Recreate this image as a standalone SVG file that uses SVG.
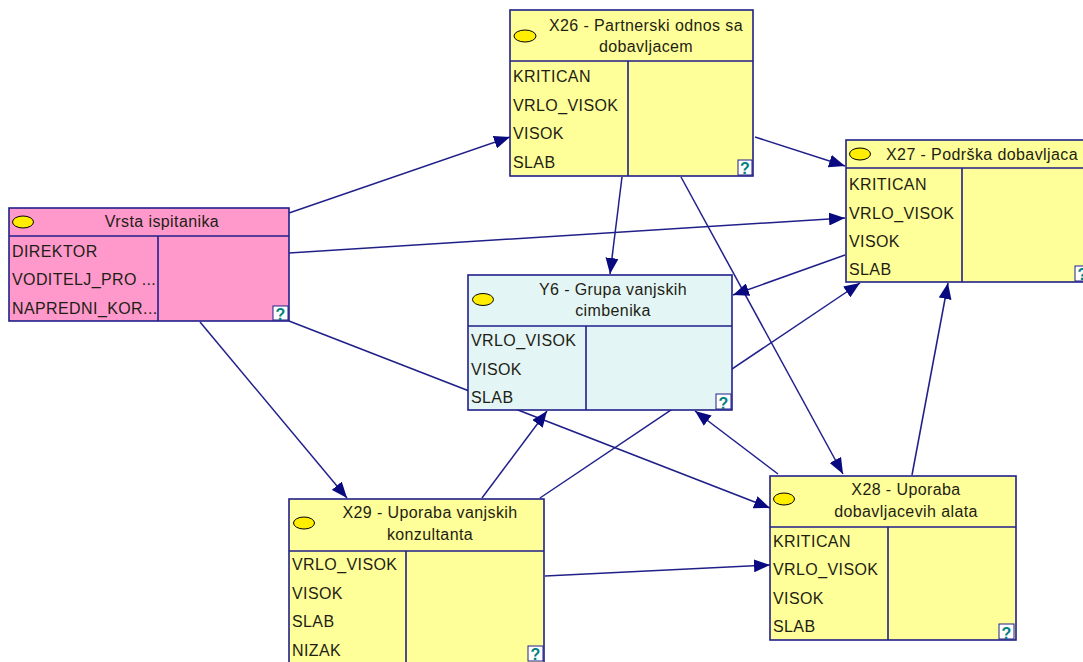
<svg xmlns="http://www.w3.org/2000/svg" width="1083" height="662" viewBox="0 0 1083 662">
<style>
.box{stroke:#20208a;stroke-width:1.6}
.div{stroke:#20208a;stroke-width:1.6;fill:none}
.y{fill:#ffff99}.p{fill:#ff99cc}.c{fill:#e3f5f5}
.ell{fill:#ffee00;stroke:#000;stroke-width:1}
text{font-family:"Liberation Sans",Arial,sans-serif;font-size:16px;fill:#1e1e14;letter-spacing:0.4px}
.h{text-anchor:middle}
.q{fill:#fff;stroke:#20208a;stroke-width:1}
.qt{font-size:16px;font-weight:bold;fill:#008080;text-anchor:middle;letter-spacing:0}
.ln{stroke:#20208a;stroke-width:1.5;fill:none;marker-end:url(#ah)}
</style>
<defs>
<marker id="ah" markerUnits="userSpaceOnUse" markerWidth="17" markerHeight="13" refX="16" refY="6.5" orient="auto">
<path d="M0,0 L16,6.5 L0,13 z" fill="#0a0a80"/>
</marker>
</defs>
<rect width="1083" height="662" fill="#fff"/>
<g id="connectors">
<line class="ln" x1="289" y1="213" x2="510" y2="137"/>
<line class="ln" x1="289" y1="253" x2="845" y2="218"/>
<line class="ln" x1="289" y1="321" x2="770" y2="508"/>
<line class="ln" x1="200" y1="322" x2="347" y2="498"/>
<line class="ln" x1="622" y1="177" x2="610" y2="274"/>
<line class="ln" x1="681" y1="177" x2="843" y2="474"/>
<line class="ln" x1="755" y1="137" x2="845" y2="166"/>
<line class="ln" x1="845" y1="255" x2="733" y2="295"/>
<line class="ln" x1="540" y1="498" x2="860" y2="283"/>
<line class="ln" x1="912" y1="475" x2="948" y2="283"/>
<line class="ln" x1="778" y1="474" x2="695" y2="411"/>
<line class="ln" x1="482" y1="498" x2="547" y2="411"/>
<line class="ln" x1="545" y1="576" x2="770" y2="565"/>
</g>
<g id="X26">
<rect class="box y" x="510" y="10" width="243" height="166"/>
<path class="div" d="M510,61 H753 M628,61 V176"/>
<ellipse class="ell" cx="525" cy="36" rx="11" ry="6"/>
<text class="h" x="646" y="31">X26 - Partnerski odnos sa</text>
<text class="h" x="646" y="52">dobavljacem</text>
<text x="513" y="82">KRITICAN</text>
<text x="513" y="110.5">VRLO_VISOK</text>
<text x="513" y="139">VISOK</text>
<text x="513" y="167.5">SLAB</text>
<rect class="q" x="738" y="160" width="14" height="15"/>
<text class="qt" x="745" y="174">?</text>
</g>
<g id="Vrsta">
<rect class="box p" x="9" y="208" width="280" height="113"/>
<path class="div" d="M9,236 H289 M158,236 V321"/>
<ellipse class="ell" cx="23" cy="222" rx="10.5" ry="6"/>
<text class="h" x="162" y="227">Vrsta ispitanika</text>
<text x="12" y="256.5">DIREKTOR</text>
<text x="12" y="285">VODITELJ_PRO ...</text>
<text x="12" y="313.5">NAPREDNI_KOR...</text>
<rect class="q" x="273" y="306" width="15" height="14"/>
<text class="qt" x="280.5" y="319.5">?</text>
</g>
<g id="Y6">
<rect class="box c" x="468" y="275" width="264" height="135"/>
<path class="div" d="M468,326 H732 M586,326 V410"/>
<ellipse class="ell" cx="483" cy="299.5" rx="10.5" ry="6"/>
<text class="h" x="613" y="295">Y6 - Grupa vanjskih</text>
<text class="h" x="613" y="316">cimbenika</text>
<text x="471" y="346">VRLO_VISOK</text>
<text x="471" y="374.5">VISOK</text>
<text x="471" y="403">SLAB</text>
<rect class="q" x="716" y="394" width="15" height="15"/>
<text class="qt" x="723.5" y="408.5">?</text>
</g>
<g id="X27">
<rect class="box y" x="846" y="140" width="246" height="142"/>
<path class="div" d="M846,168 H1092 M962,168 V282"/>
<ellipse class="ell" cx="860" cy="154" rx="10.5" ry="6"/>
<text class="h" x="982" y="160">X27 - Podrška dobavljaca</text>
<text x="849" y="190">KRITICAN</text>
<text x="849" y="218.5">VRLO_VISOK</text>
<text x="849" y="247">VISOK</text>
<text x="849" y="275">SLAB</text>
<rect class="q" x="1075" y="266" width="15" height="15"/>
<text class="qt" x="1082.5" y="280">?</text>
</g>
<g id="X29">
<rect class="box y" x="289" y="499" width="255" height="166"/>
<path class="div" d="M289,551 H544 M406,551 V665"/>
<ellipse class="ell" cx="304" cy="523" rx="10.5" ry="6"/>
<text class="h" x="430" y="518">X29 - Uporaba vanjskih</text>
<text class="h" x="430" y="540">konzultanta</text>
<text x="292" y="570">VRLO_VISOK</text>
<text x="292" y="598.5">VISOK</text>
<text x="292" y="627">SLAB</text>
<text x="292" y="655.5">NIZAK</text>
<rect class="q" x="528" y="646" width="15" height="15"/>
<text class="qt" x="535.5" y="660">?</text>
</g>
<g id="X28">
<rect class="box y" x="770" y="476" width="246" height="164"/>
<path class="div" d="M770,527 H1016 M888,527 V640"/>
<ellipse class="ell" cx="784" cy="499" rx="10.5" ry="6"/>
<text class="h" x="906" y="495">X28 - Uporaba</text>
<text class="h" x="906" y="517">dobavljacevih alata</text>
<text x="773" y="546.5">KRITICAN</text>
<text x="773" y="575">VRLO_VISOK</text>
<text x="773" y="603.5">VISOK</text>
<text x="773" y="632">SLAB</text>
<rect class="q" x="999" y="624" width="15" height="15"/>
<text class="qt" x="1006.5" y="638.5">?</text>
</g>
</svg>
